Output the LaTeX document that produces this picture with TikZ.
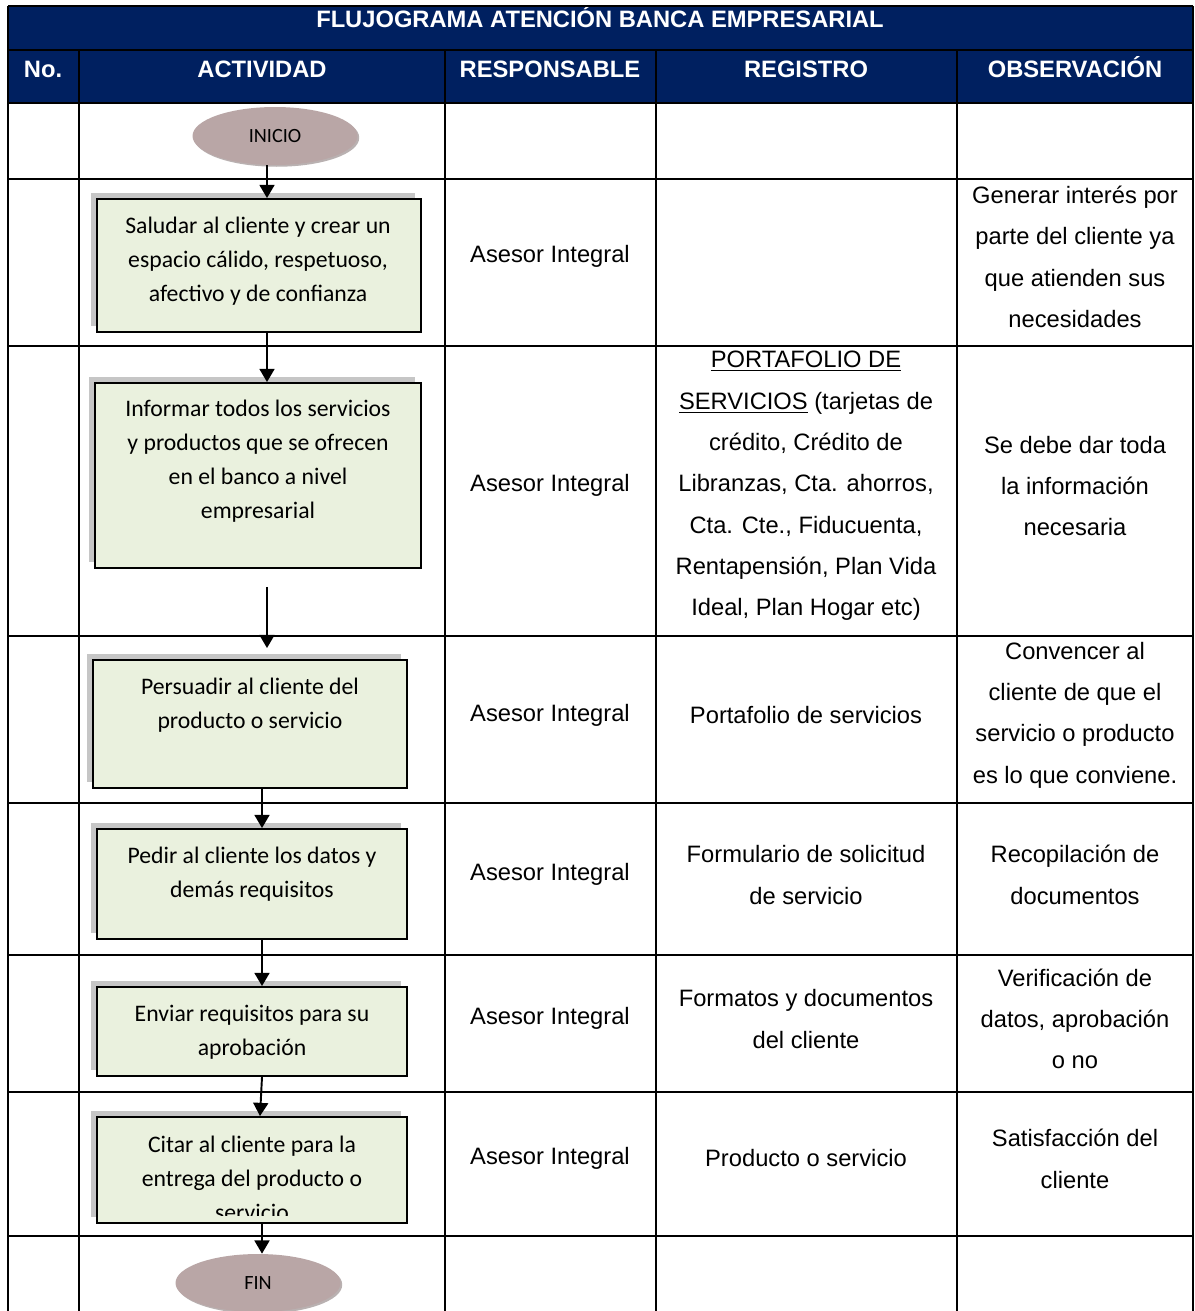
\documentclass[tikz,border=0pt]{standalone}
\usepackage{fontspec}
\setmainfont{Liberation Sans}
\newfontfamily\boxfont{Carlito}
\definecolor{HeadNavy}{RGB}{0,32,96}
\definecolor{BoxGreen}{RGB}{234,241,222}
\definecolor{TermRose}{RGB}{185,166,166}
\definecolor{ShadowGray}{RGB}{198,198,198}
\usetikzlibrary{
    shapes.geometric,
    arrows.meta,
    shadows,
}

\begin{document}
\begin{tikzpicture}[x=0.02cm, y=-0.02cm,
        grid/.style={line width=1.4pt, black},
        cell/.style={align=center, inner sep=0pt, font=\fontsize{13.5}{23.5}\selectfont},
        head/.style={inner sep=0pt, anchor=base, text=white, font=\fontsize{13.5}{16}\selectfont\bfseries},
        actbox/.style={rectangle, draw=black, line width=1.1pt, fill=BoxGreen, inner sep=0pt,
            drop shadow={shadow xshift=-3.4pt, shadow yshift=3.4pt, fill=ShadowGray, opacity=1}},
        acttext/.style={align=center, inner sep=0pt, font=\boxfont\fontsize{13.5}{19.3}\selectfont},
        term/.style={ellipse, fill=TermRose, minimum width=3.3cm, minimum height=1.16cm, inner sep=0pt,
            font=\boxfont\fontsize{11.5}{12}\selectfont,
            drop shadow={shadow xshift=1pt, shadow yshift=-1pt, fill=TermRose!75!black, opacity=0.6}},
        flow/.style={-{Triangle[length=7.5pt, width=8.5pt]}, line width=1.1pt},
    ]
    \useasboundingbox (0,0) rectangle (1195,1311);
    \fill[white] (0,0) rectangle (1195,1311);

    % header band
    \fill[HeadNavy] (8,6) rectangle (1193,103);
    \node[head] (title) at (600,28) {FLUJOGRAMA ATENCIÓN BANCA EMPRESARIAL};
    \node[head] (hno) at (43,78) {No.};
    \node[head] (hact) at (262,78) {ACTIVIDAD};
    \node[head] (hresp) at (550,78) {RESPONSABLE};
    \node[head] (hreg) at (806,78) {REGISTRO};
    \node[head] (hobs) at (1075,78) {OBSERVACIÓN};

    % table rules
    \foreach \yy in {6,50,103,179,346,636,803,955,1092,1236}
        \draw[grid] (8,\yy) -- (1193,\yy);
    \foreach \xx in {8,1193}
        \draw[grid] (\xx,6) -- (\xx,1311);
    \foreach \xx in {79,445,656,957}
        \draw[grid] (\xx,50) -- (\xx,1311);

    % flow column
    \node[term] (ini) at (275,136) {INICIO};
    \node[actbox, minimum width=6.48cm, minimum height=2.66cm] (b1) at (259,265.5) {};
    \node[acttext] (b1t) at (258,261) {Saludar al cliente y crear un\\espacio cálido, respetuoso,\\afectivo y de confianza};
    \node[actbox, minimum width=6.52cm, minimum height=3.7cm] (b2) at (258,475.5) {};
    \node[acttext] (b2t) at (258,461) {Informar todos los servicios\\y productos que se ofrecen\\en el banco a nivel\\empresarial};
    \node[actbox, minimum width=6.28cm, minimum height=2.56cm] (b3) at (250,724) {};
    \node[acttext] (b3t) at (250,705) {Persuadir al cliente del\\producto o servicio};
    \node[actbox, minimum width=6.2cm, minimum height=2.2cm] (b4) at (252,884) {};
    \node[acttext] (b4t) at (252,874) {Pedir al cliente los datos y\\demás requisitos};
    \node[actbox, minimum width=6.2cm, minimum height=1.78cm] (b5) at (252,1031.5) {};
    \node[acttext] (b5t) at (252,1032) {Enviar requisitos para su\\aprobación};
    \node[actbox, minimum width=6.2cm, minimum height=2.12cm] (b6) at (252,1170) {};
    \begin{scope}
        \clip (98,1118) rectangle (406,1215);
        \node[acttext] (b6t) at (252,1178) {Citar al cliente para la\\entrega del producto o\\servicio};
    \end{scope}
    \node[term] (fin) at (258,1283) {FIN};

    \coordinate (axa) at (267,0);
    \coordinate (axb) at (262,0);
    \coordinate (axc) at (260,0);
    \draw[flow] (ini.south -| axa) -- (b1.north -| axa);
    \draw[flow] (b1.south -| axa) -- (b2.north -| axa);
    \draw[flow, shorten <=0.36cm, shorten >=0.22cm] (b2.south -| axa) -- (b3.north -| axa);
    \draw[flow] (b3.south -| axb) -- (b4.north -| axb);
    \draw[flow] (b4.south -| axb) -- (b5.north -| axb);
    \draw[flow] (b5.south -| axb) -- (b6.north -| axc);
    \draw[flow] (b6.south -| axb) -- (fin.north -| axb);

    % responsable
    \foreach \yy/\nm in {256/r1,485/r2,715/r3,874/r4,1018/r5,1158/r6}
        \node[cell] (\nm) at (550,\yy) {Asesor Integral};

    % registro
    \node[cell] (g2) at (806,486) {\underline{PORTAFOLIO DE}\\\underline{SERVICIOS} (tarjetas de\\crédito, Crédito de\\Libranzas, Cta. ahorros,\\Cta. Cte., Fiducuenta,\\Rentapensión, Plan Vida\\Ideal, Plan Hogar etc)};
    \node[cell] (g3) at (806,715) {Portafolio de servicios};
    \node[cell] (g4) at (806,875) {Formulario de solicitud\\de servicio};
    \node[cell] (g5) at (806,1019) {Formatos y documentos\\del cliente};
    \node[cell] (g6) at (806,1158) {Producto o servicio};

    % observacion
    \node[cell] (o1) at (1075,257) {Generar interés por\\parte del cliente ya\\que atienden sus\\necesidades};
    \node[cell] (o2) at (1075,486) {Se debe dar toda\\la información\\necesaria};
    \node[cell] (o3) at (1075,715) {Convencer al\\cliente de que el\\servicio o producto\\es lo que conviene.};
    \node[cell] (o4) at (1075,875) {Recopilación de\\documentos};
    \node[cell] (o5) at (1075,1019) {Verificación de\\datos, aprobación\\o no};
    \node[cell] (o6) at (1075,1159) {Satisfacción del\\cliente};
\end{tikzpicture}
\end{document}
